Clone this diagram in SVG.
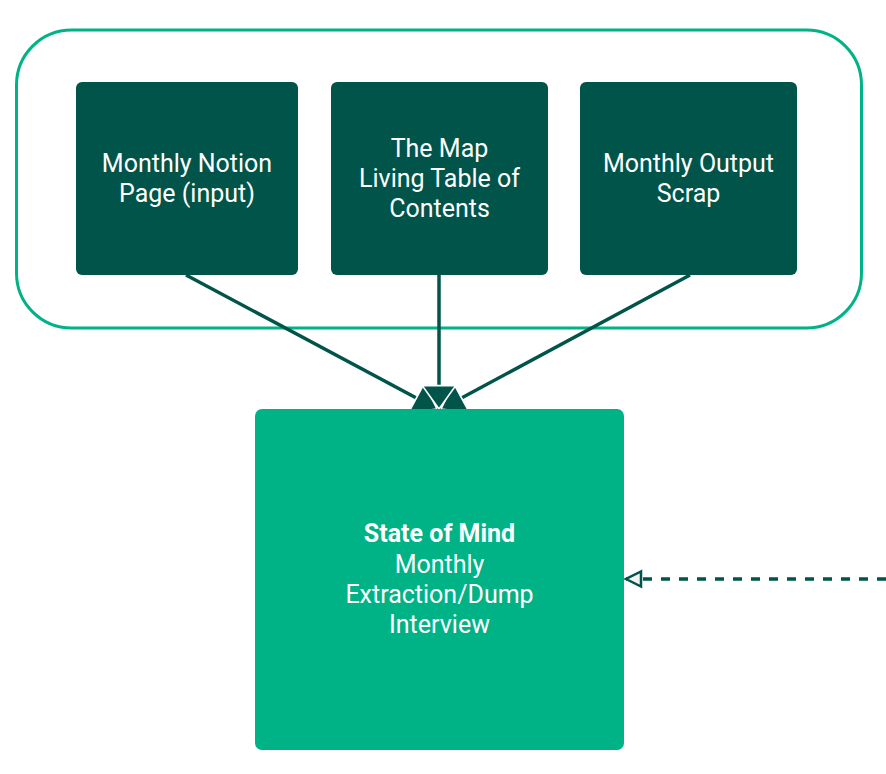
<svg xmlns="http://www.w3.org/2000/svg" width="886" height="774" viewBox="0 0 886 774">
<style>
.dark{fill:#00544a}
.lt{font-family:Roboto,"Liberation Sans",sans-serif;font-size:25px;fill:#ffffff;text-anchor:middle}
.b{font-weight:bold}
.conn{stroke:#00544a;stroke-width:3.5;fill:none}
</style>
<defs>
<marker id="ah" markerUnits="userSpaceOnUse" markerWidth="40" markerHeight="40" viewBox="-24 -18 26 36" refX="0" refY="0" orient="auto">
<path d="M0,0 L-21,-15 L-21,15 Z" fill="#00544a" stroke="#ffffff" stroke-width="1.5"/>
</marker>
<marker id="oh" markerUnits="userSpaceOnUse" markerWidth="20" markerHeight="20" viewBox="-14 -8 16 16" refX="0" refY="0" orient="auto">
<path d="M0,0 L-12,-6 L-12,6 Z" fill="#f2f2f2" stroke="#00544a" stroke-width="2"/>
</marker>
</defs>
<rect width="886" height="774" fill="#ffffff"/>
<g id="group">
<rect x="16.5" y="30" width="845" height="298" rx="55" fill="none" stroke="#00b386" stroke-width="3"/>
</g>
<g id="connectors">
<line class="conn" x1="186" y1="275" x2="437" y2="409" marker-end="url(#ah)"/>
<line class="conn" x1="690" y1="275" x2="441" y2="409" marker-end="url(#ah)"/>
<line class="conn" x1="439" y1="275" x2="439" y2="409" marker-end="url(#ah)"/>
<line class="conn" x1="886" y1="579" x2="626" y2="579" stroke-width="2.5" stroke-dasharray="9,9" marker-end="url(#oh)"/>
</g>
<g id="node1">
<rect class="dark" x="76" y="82" width="222" height="193" rx="6"/>
<text class="lt" x="187" y="172">Monthly Notion</text>
<text class="lt" x="187" y="202">Page (input)</text>
</g>
<g id="node2">
<rect class="dark" x="331" y="82" width="217" height="193" rx="6"/>
<text class="lt" x="439.5" y="157">The Map</text>
<text class="lt" x="439.5" y="187">Living Table of</text>
<text class="lt" x="439.5" y="217">Contents</text>
</g>
<g id="node3">
<rect class="dark" x="580" y="82" width="217" height="193" rx="6"/>
<text class="lt" x="688.5" y="172">Monthly Output</text>
<text class="lt" x="688.5" y="202">Scrap</text>
</g>
<g id="node4">
<rect x="255" y="409" width="369" height="341" rx="7" fill="#00b386"/>
<text class="lt b" x="439.5" y="542">State of Mind</text>
<text class="lt" x="439.5" y="573">Monthly</text>
<text class="lt" x="439.5" y="603">Extraction/Dump</text>
<text class="lt" x="439.5" y="633">Interview</text>
</g>
</svg>
